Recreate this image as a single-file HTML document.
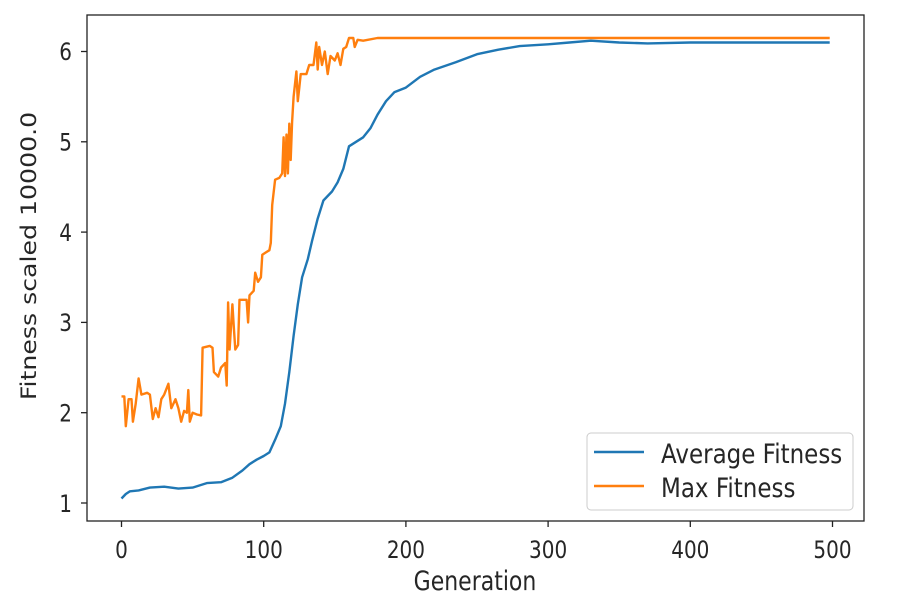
<!DOCTYPE html>
<html><head><style>body{margin:0;background:#fff}svg{display:block}text{font-family:"DejaVu Sans","Liberation Sans",sans-serif;fill:#262626}</style></head>
<body>
<svg id="s" width="897" height="608" xmlns="http://www.w3.org/2000/svg">
<rect x="0" y="0" width="897" height="608" fill="#fff"/>
<path id="avg" fill="none" stroke="#1f77b4" stroke-width="2.4" stroke-linejoin="round"/>
<path id="mx" fill="none" stroke="#ff7f0e" stroke-width="2.4" stroke-linejoin="round"/>
<rect x="87" y="15" width="777" height="506" fill="none" stroke="#222" stroke-width="1.3"/>
<g stroke="#222" stroke-width="1.3">
<line x1="121.5" y1="521" x2="121.5" y2="527"/><line x1="263.7" y1="521" x2="263.7" y2="527"/><line x1="405.9" y1="521" x2="405.9" y2="527"/><line x1="548.1" y1="521" x2="548.1" y2="527"/><line x1="690.3" y1="521" x2="690.3" y2="527"/><line x1="832.5" y1="521" x2="832.5" y2="527"/>
<line x1="81" y1="503" x2="87" y2="503"/><line x1="81" y1="412.7" x2="87" y2="412.7"/><line x1="81" y1="322.4" x2="87" y2="322.4"/><line x1="81" y1="232.1" x2="87" y2="232.1"/><line x1="81" y1="141.8" x2="87" y2="141.8"/><line x1="81" y1="51.5" x2="87" y2="51.5"/>
</g>
<g font-size="20" text-anchor="middle">
<text transform="translate(121.5,558) scale(1,1.2)">0</text><text transform="translate(263.7,558) scale(1,1.2)">100</text><text transform="translate(405.9,558) scale(1,1.2)">200</text><text transform="translate(548.1,558) scale(1,1.2)">300</text><text transform="translate(690.3,558) scale(1,1.2)">400</text><text transform="translate(832.5,558) scale(1,1.2)">500</text>
</g>
<text font-size="22" text-anchor="middle" transform="translate(475,590) scale(1,1.2)">Generation</text>
<g font-size="20" text-anchor="end">
<text transform="translate(72,512) scale(1,1.2)">1</text><text transform="translate(72,421.5) scale(1,1.2)">2</text><text transform="translate(72,331) scale(1,1.2)">3</text><text transform="translate(72,241) scale(1,1.2)">4</text><text transform="translate(72,150.5) scale(1,1.2)">5</text><text transform="translate(72,60) scale(1,1.2)">6</text>
</g>
<text font-size="21" text-anchor="middle" transform="translate(36,256) scale(1,1.2) rotate(-90)">Fitness scaled 10000.0</text>
<rect x="587" y="433" width="266" height="77" rx="4" fill="#fff" stroke="#ccc"/>
<line x1="594" y1="452" x2="644" y2="452" stroke="#1f77b4" stroke-width="2.4"/>
<line x1="594" y1="486" x2="644" y2="486" stroke="#ff7f0e" stroke-width="2.4"/>
<text font-size="23" transform="translate(661,463) scale(1,1.15)">Average Fitness</text>
<text font-size="23" transform="translate(661,497) scale(1,1.15)">Max Fitness</text>
<script>
function X(g){return 121.5+g*1.422}function Y(v){return 503-(v-1)*90.3}
var a=[[0,1.05],[3,1.1],[6,1.13],[12,1.14],[20,1.17],[30,1.18],[40,1.16],[50,1.17],[60,1.22],[70,1.23],[78,1.28],[85,1.36],[90,1.43],[95,1.48],[100,1.52],[104,1.56],[108,1.7],[112,1.85],[115,2.1],[118,2.45],[121,2.85],[124,3.2],[127,3.5],[131,3.7],[134,3.9],[138,4.15],[142,4.35],[148,4.45],[152,4.55],[156,4.7],[160,4.95],[165,5.0],[170,5.05],[175,5.15],[180,5.3],[186,5.45],[192,5.55],[200,5.6],[210,5.72],[220,5.8],[235,5.88],[250,5.97],[265,6.02],[280,6.06],[300,6.08],[315,6.1],[330,6.12],[350,6.1],[370,6.09],[400,6.1],[430,6.1],[460,6.1],[498,6.1]];
var m=[[0,2.18],[2,2.18],[3,1.85],[5,2.15],[7,2.15],[8,1.9],[10,2.1],[12,2.38],[14,2.2],[18,2.22],[20,2.2],[22,1.93],[24,2.05],[26,1.95],[28,2.15],[30,2.2],[33,2.32],[35,2.05],[38,2.15],[40,2.05],[42,1.9],[44,2.02],[46,2.0],[47,2.25],[48,1.9],[50,2.0],[53,1.98],[56,1.97],[57,2.72],[62,2.74],[64,2.72],[65,2.45],[68,2.4],[70,2.5],[73,2.55],[74,2.3],[75,3.22],[76,2.7],[78,3.2],[79,2.95],[80,2.7],[82,2.75],[83,3.25],[86,3.25],[88,3.25],[89,3.0],[90,3.3],[93,3.35],[94,3.55],[96,3.45],[98,3.5],[99,3.75],[102,3.78],[104,3.8],[105,3.88],[106,4.3],[108,4.58],[111,4.6],[113,4.65],[114,5.05],[115,4.62],[116,5.08],[117,4.65],[118,5.2],[119,4.8],[120,5.22],[121,5.5],[123,5.78],[124,5.45],[125,5.6],[126,5.75],[130,5.75],[132,5.85],[135,5.85],[137,6.1],[138,5.8],[139,6.05],[141,5.85],[143,6.0],[145,5.75],[147,5.95],[150,5.9],[152,5.98],[154,5.85],[156,6.03],[158,6.05],[160,6.15],[163,6.15],[164,6.05],[166,6.13],[170,6.12],[180,6.15],[498,6.15]];
function p(d){return d.map(function(q,i){return(i?'L':'M')+X(q[0]).toFixed(1)+' '+Y(q[1]).toFixed(1)}).join('')}
document.getElementById('avg').setAttribute('d',p(a));document.getElementById('mx').setAttribute('d',p(m));
</script>
</svg>
</body></html>
